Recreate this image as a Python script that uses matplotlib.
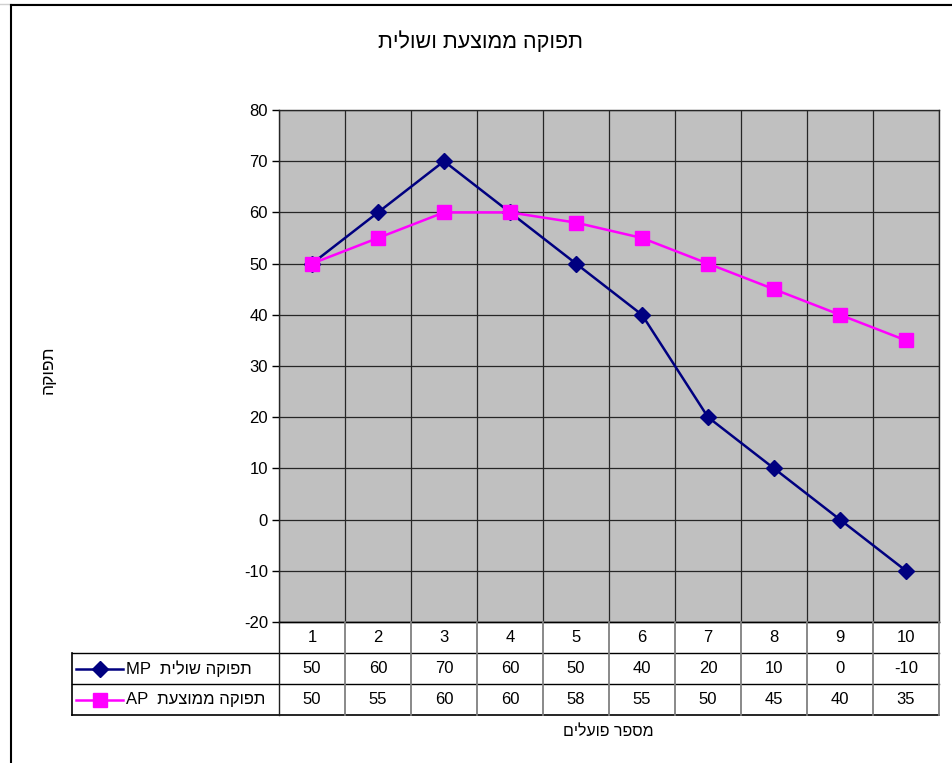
import numpy as np
import matplotlib
matplotlib.use("Agg")
import matplotlib.pyplot as plt
from matplotlib.lines import Line2D

plt.rcParams["font.family"] = ["Liberation Sans", "DejaVu Sans"]

# data (Hebrew strings are stored in logical order, reversed for drawing)
WORKERS = [1, 2, 3, 4, 5, 6, 7, 8, 9, 10]
MP = [50, 60, 70, 60, 50, 40, 20, 10, 0, -10]
AP = [50, 55, 60, 60, 58, 55, 50, 45, 40, 35]
Y_TICKS = [-20, -10, 0, 10, 20, 30, 40, 50, 60, 70, 80]

TITLE = "תפוקה ממוצעת ושולית"
Y_LABEL = "תפוקה"
X_LABEL = "מספר פועלים"
MP_NAME = "תפוקה שולית"
AP_NAME = "תפוקה ממוצעת"

FS = 12


def vis(s):
    # matplotlib has no bidi support: put Hebrew in visual order
    return s[::-1]


W, H = 952, 763
fig = plt.figure(figsize=(W / 100, H / 100), dpi=100)


def fx(px):
    return px / W


def fy(py):
    return 1 - py / H


# plot area in pixel coords of the reference
L, R, T, B = 279, 939, 110, 622
ax = fig.add_axes([fx(L), fy(B), fx(R - L), (B - T) / H])
ax.set_facecolor("#C0C0C0")

x = np.array(WORKERS)
ax.plot(x, MP, color="#000080", lw=1.8, marker="D", ms=8, mfc="#000080",
        mec="#000080", zorder=3)
ax.plot(x, AP, color="#FF00FF", lw=1.8, marker="s", ms=9.5, mfc="#FF00FF",
        mec="#FF00FF", zorder=3)

ax.set_xlim(0.5, len(WORKERS) + 0.5)
ax.set_ylim(Y_TICKS[0], Y_TICKS[-1])
ax.set_yticks(Y_TICKS)
ax.set_yticklabels([str(v) for v in Y_TICKS], fontsize=FS)
ax.set_xticks(np.arange(0.5, len(WORKERS) + 1, 1))
ax.set_xticklabels([])
ax.tick_params(axis="x", length=0)
ax.tick_params(axis="y", direction="out", length=5, width=1, pad=3)
ax.grid(True, color="#262626", lw=0.9)
for sp in ax.spines.values():
    sp.set_color("#262626")
    sp.set_linewidth(1)

# data table under the plot, sharing the category scale
LEG_L = 72
unit = (R - L) / len(WORKERS)
x0 = 0.5 - (L - LEG_L) / unit
TB = 715
tax = fig.add_axes([fx(LEG_L), fy(TB), fx(R - LEG_L), (TB - B) / H])
tax.set_xlim(x0, len(WORKERS) + 0.5)
tax.set_ylim(3, 0)
tax.axis("off")

n = len(WORKERS)
# horizontal lines
tax.plot([0.5, n + 0.5], [0, 0], color="black", lw=1, clip_on=False)
tax.plot([x0, n + 0.5], [1, 1], color="black", lw=1, clip_on=False)
tax.plot([x0, n + 0.5], [2, 2], color="black", lw=1, clip_on=False)
tax.plot([x0, n + 0.5], [3, 3], color="black", lw=1.2, clip_on=False)
# vertical lines
tax.plot([x0, x0], [1, 3], color="black", lw=1.2, clip_on=False)
tax.plot([0.5, 0.5], [0, 3], color="#202020", lw=1, clip_on=False)
for k in range(1, n + 1):
    tax.plot([k + 0.5, k + 0.5], [0, 3], color="#808080", lw=1.3,
             clip_on=False)

for i, w in enumerate(WORKERS):
    tax.text(w, 0.5, str(w), ha="center", va="center", fontsize=FS)
    tax.text(w, 1.5, str(MP[i]), ha="center", va="center", fontsize=FS)
    tax.text(w, 2.5, str(AP[i]), ha="center", va="center", fontsize=FS)

# legend keys inside the table
px = lambda p: 0.5 + (p - L) / unit
tax.plot([px(76), px(123)], [1.5, 1.5], color="#000080", lw=1.8,
         clip_on=False)
tax.plot([px(99.5)], [1.5], marker="D", ms=8, color="#000080",
         clip_on=False)
tax.plot([px(76), px(123)], [2.5, 2.5], color="#FF00FF", lw=1.8,
         clip_on=False)
tax.plot([px(99.5)], [2.5], marker="s", ms=9.5, color="#FF00FF",
         clip_on=False)
tax.text(px(126), 1.5, "MP  " + vis(MP_NAME), ha="left", va="center",
         fontsize=FS)
tax.text(px(126), 2.5, "AP  " + vis(AP_NAME), ha="left", va="center",
         fontsize=FS)

# titles
fig.text(fx(481), fy(42), vis(TITLE), ha="center", va="center", fontsize=15.5)
fig.text(fx(48), fy(370), vis(Y_LABEL), ha="center", va="center",
         rotation=90, fontsize=12.5)
fig.text(fx(608), fy(731), vis(X_LABEL), ha="center", va="center",
         fontsize=11.5)

# outer chart frame (left and top edges visible)
fig.add_artist(Line2D([fx(0), fx(W)], [fy(3.5), fy(3.5)], color="#D0D0D0",
                      lw=1, transform=fig.transFigure))
fig.add_artist(Line2D([fx(11), fx(11)], [fy(5), fy(H)], color="black",
                      lw=1.5, transform=fig.transFigure))
fig.add_artist(Line2D([fx(11), fx(W)], [fy(5), fy(5)], color="black",
                      lw=1.5, transform=fig.transFigure))

fig.savefig("out.png", dpi=100)
